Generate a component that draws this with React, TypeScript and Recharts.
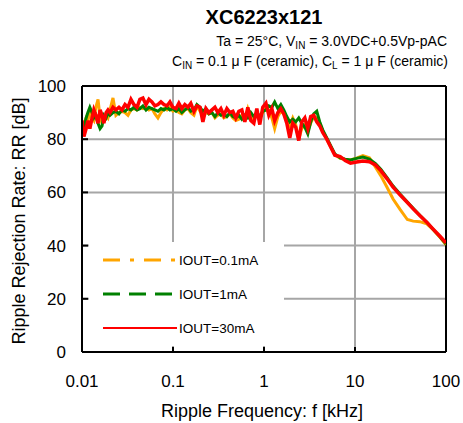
import { LineChart, Line, XAxis, YAxis, CartesianGrid, ReferenceLine } from 'recharts'

// Ripple frequency [kHz]
const freqs = [
  0.01, 0.0105, 0.0111, 0.0116, 0.0122, 0.0129, 0.0135, 0.0142, 0.015, 0.0158,
  0.0166, 0.0174, 0.0184, 0.0193, 0.0203, 0.0219, 0.0236, 0.0255, 0.0275, 0.0297,
  0.032, 0.0345, 0.0372, 0.0402, 0.0433, 0.0467, 0.0505, 0.0544, 0.0587, 0.0633,
  0.0683, 0.0737, 0.0795, 0.0858, 0.0925, 0.0998, 0.108, 0.116, 0.125, 0.135,
  0.146, 0.157, 0.17, 0.183, 0.198, 0.213, 0.23, 0.248, 0.268, 0.289,
  0.311, 0.336, 0.362, 0.391, 0.422, 0.455, 0.49, 0.529, 0.571, 0.616,
  0.664, 0.717, 0.773, 0.834, 0.899, 0.97, 1.05, 1.13, 1.22, 1.31,
  1.42, 1.53, 1.65, 1.78, 1.92, 2.07, 2.23, 2.41, 2.6, 2.81,
  3.03, 3.26, 3.52, 3.8, 4.1, 4.42, 4.9, 5.42, 6.0, 6.87,
  7.8, 8.92, 10.4, 12.2, 14.4, 16.8, 19.2, 22.4, 26.2, 31.4,
  37.6, 43.6, 51.5, 61.5, 72.2, 86.4, 100,
]

const iout01 = [
  84, 86, 88, 87, 90, 88, 87, 92, 95, 88,
  86, 88, 89, 88, 91, 95.5, 89, 90, 90.5, 90,
  89, 91, 91.5, 91, 92, 91.5, 92, 91, 91.5, 89.5,
  88, 90, 91.5, 91, 92, 90.5, 91, 90, 89.5, 91,
  91.5, 90, 89, 92.5, 90.5, 89, 90, 89.5, 90, 88,
  89, 89.5, 88, 88.5, 89.5, 88, 87, 87.5, 89, 87.5,
  91.5, 88, 87.5, 89.5, 88, 90, 92, 91, 88, 84,
  88.5, 90.5, 89.5, 87, 85, 88, 85.5, 80, 84, 85.5,
  83, 86, 88.5, 88, 86, 83, 80, 77, 74.2, 72.8,
  72.4, 72.2, 72.9, 73.8, 73, 69.5, 66.3, 62, 57.5, 53.5,
  49.8, 49.2, 49, 48.2, 46, 43, 40.3,
]

const iout1 = [
  86, 84, 88, 90, 92, 90, 88, 89, 86, 84,
  85, 89, 88, 90, 89, 90, 90.5, 89.5, 91, 90.5,
  91.5, 91, 92, 91, 91.5, 92.5, 91, 92, 91.5, 91,
  90.5, 91.5, 91, 92, 91, 91.5, 90.5, 91.5, 90, 91,
  92, 90.5, 91, 93, 92, 90.5, 91.5, 89.5, 90, 88.5,
  90, 89, 89.5, 88.5, 90, 88.5, 88, 89, 87.5, 89,
  88, 90, 88.5, 90, 88.5, 90.5, 91, 92.5, 92, 94,
  91.5, 93, 91, 88.5, 86.5, 87.5, 86.5, 88, 86, 84.5,
  82, 86.5, 89.5, 90.5, 86.5, 83.5, 80.5, 77.5, 74.5, 73,
  72.5, 72.2, 72.8, 73.3, 72.5, 70.8, 68.7, 65.6, 62.4, 59.3,
  56.4, 54, 51.4, 48.8, 46.1, 43.2, 40.6,
]

const iout30 = [
  87, 81, 84, 87, 84, 88, 91, 89, 86, 91,
  89, 86, 90, 91, 90, 92, 91, 92, 91, 93,
  92, 95, 93, 92, 95, 95.5, 93, 95, 94, 92.5,
  93, 94, 93, 92.5, 94, 92, 91.5, 93.5, 91.5, 93,
  92, 93.5, 90.5, 92.5, 92, 86.5, 91.5, 90, 91, 92,
  90, 91.5, 89, 91.5, 90, 90.5, 88, 90.5, 91, 86.5,
  92, 87, 86, 91.5, 85.5, 92, 93.5, 89, 91.5, 87,
  90, 91.5, 89.5, 86, 80.5, 86, 84.5, 79.5, 86.5, 88,
  84, 88.5, 89, 86.5, 85, 82.5, 80, 77, 74, 73.5,
  72, 71, 71.4, 71.8, 71.5, 70.3, 68.2, 65.2, 62, 59,
  56.2, 53.8, 51.3, 48.8, 46.2, 43.4, 41,
]

const xTicks = [0.01, 0.1, 1, 10, 100]
const yTicks = [0, 20, 40, 60, 80, 100]

const legendItems = [
  { name: 'IOUT=0.1mA', color: '#FFA500', dash: '17 10 4 10', width: 3 },
  { name: 'IOUT=1mA', color: '#008000', dash: '17 9', width: 3 },
  { name: 'IOUT=30mA', color: '#FF0000', dash: undefined, width: 2 },
]

const data = freqs.map((f, i) => ({ f, a: iout01[i], b: iout1[i], c: iout30[i] }))

const FONT = '"Liberation Sans", Arial, sans-serif'

function YTick(props: any) {
  const { x, y, payload } = props
  return (
    <g>
      <line x1={x} x2={x + 6} y1={y} y2={y} stroke="#000" strokeWidth={2} />
      <text x={x - 16} y={y} dy={6} textAnchor="end" fontSize={17} fill="#000" fontFamily={FONT}>
        {payload.value}
      </text>
    </g>
  )
}

function XTick(props: any) {
  const { x, y, payload } = props
  const edge = payload.value === 0.01 || payload.value === 100
  return (
    <g>
      {!edge && <line x1={x} x2={x} y1={y} y2={y - 5} stroke="#000" strokeWidth={2} />}
      <text x={x} y={y} dy={35} textAnchor="middle" fontSize={17} fill="#000" fontFamily={FONT}>
        {payload.value}
      </text>
    </g>
  )
}

export default function App() {
  return (
    <div style={{ position: 'absolute', left: 0, top: 0, width: 463, height: 423, background: '#fff', fontFamily: FONT }}>
      <LineChart width={463} height={423} data={data} margin={{ top: 86, right: 17, bottom: 31, left: 0 }}>
        <CartesianGrid stroke="#a6a6a6" strokeWidth={2} />
        <XAxis
          dataKey="f"
          type="number"
          scale="log"
          domain={[0.01, 100]}
          ticks={xTicks}
          allowDataOverflow
          height={40}
          tickSize={0}
          tickMargin={0}
          tickLine={false}
          tick={<XTick />}
          axisLine={{ stroke: '#000', strokeWidth: 2 }}
        />
        <YAxis
          type="number"
          domain={[0, 100]}
          ticks={yTicks}
          width={82}
          tickSize={0}
          tickMargin={0}
          tickLine={false}
          tick={<YTick />}
          axisLine={{ stroke: '#000', strokeWidth: 2 }}
        />
        <ReferenceLine y={100} stroke="#000" strokeWidth={2} />
        <ReferenceLine x={100} stroke="#000" strokeWidth={2} />
        <Line dataKey="a" stroke="#FFA500" strokeWidth={3} dot={false} type="linear" isAnimationActive={false} />
        <Line dataKey="b" stroke="#008000" strokeWidth={3} dot={false} type="linear" isAnimationActive={false} />
        <Line dataKey="c" stroke="#FF0000" strokeWidth={3.5} dot={false} type="linear" isAnimationActive={false} />
      </LineChart>

      <svg width={463} height={423} style={{ position: 'absolute', left: 0, top: 0, pointerEvents: 'none' }}>
        <text x={264} y={24} textAnchor="middle" fontSize={20} fontWeight="bold" fontFamily={FONT}>
          XC6223x121
        </text>
        <text x={447} y={46} textAnchor="end" fontSize={14} fontFamily={FONT}>
          Ta = 25°C, V<tspan fontSize={10} dy={3}>IN</tspan>
          <tspan dy={-3}> = 3.0VDC+0.5Vp-pAC</tspan>
        </text>
        <text x={448} y={66} textAnchor="end" fontSize={14} fontFamily={FONT}>
          C<tspan fontSize={10} dy={3}>IN</tspan>
          <tspan dy={-3}> = 0.1 μ F (ceramic), C</tspan>
          <tspan fontSize={10} dy={3}>L</tspan>
          <tspan dy={-3}> = 1 μ F (ceramic)</tspan>
        </text>

        <text x={262} y={417} textAnchor="middle" fontSize={18} fontFamily={FONT}>
          Ripple Frequency: f [kHz]
        </text>
        <text
          x={0}
          y={0}
          transform="translate(25 221) rotate(-90)"
          textAnchor="middle"
          fontSize={18}
          fontFamily={FONT}
        >
          Ripple Rejection Rate: RR [dB]
        </text>

        <rect x={89} y={242} width={195} height={104} fill="#fff" />
        {legendItems.map((it, i) => {
          const cy = 260 + i * 34
          return (
            <g key={it.name}>
              <line x1={103} x2={177} y1={cy} y2={cy} stroke={it.color} strokeWidth={it.width} strokeDasharray={it.dash} />
              <text x={179} y={cy} dy={5} fontSize={13.5} fontFamily={FONT}>
                {it.name}
              </text>
            </g>
          )
        })}
      </svg>
    </div>
  )
}
